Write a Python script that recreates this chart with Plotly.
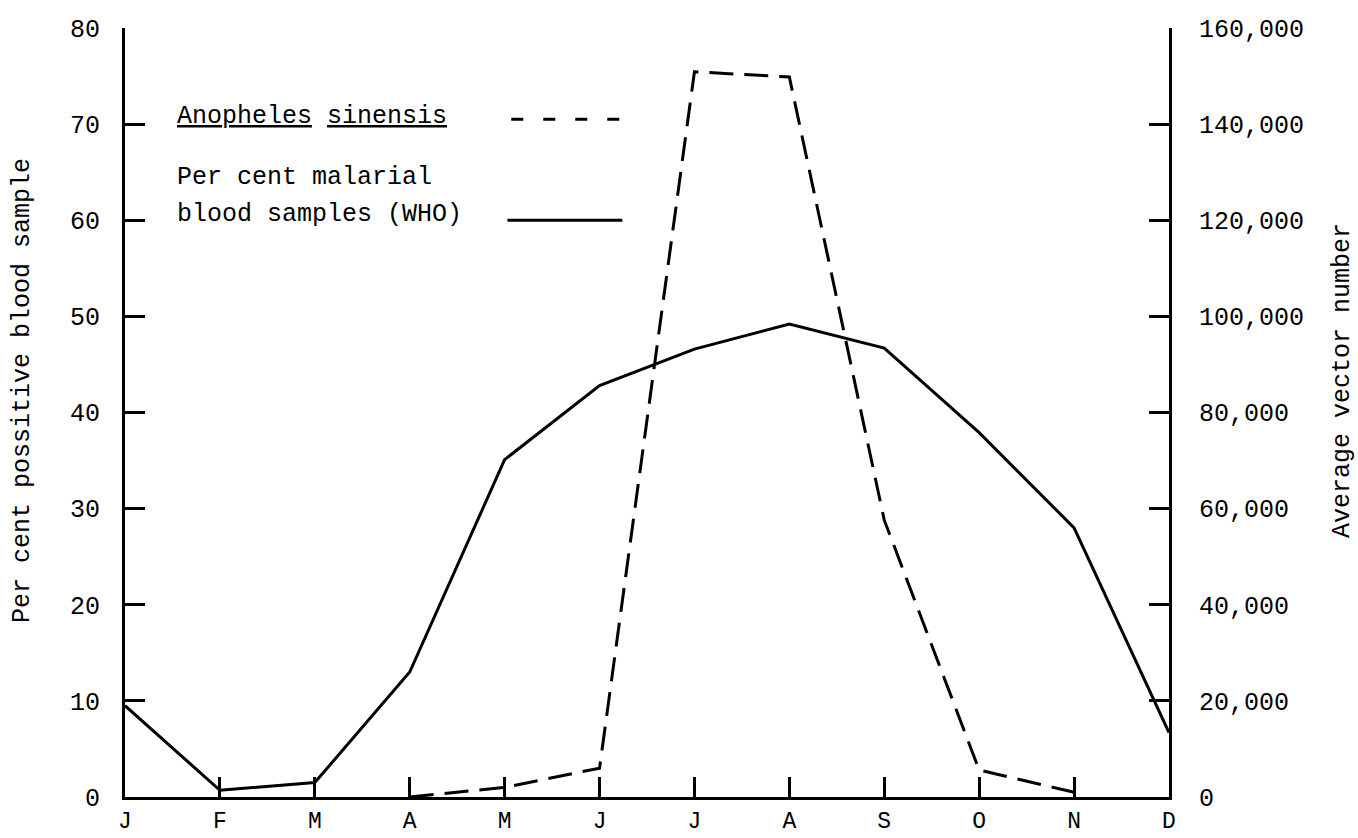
import plotly.graph_objects as go

months = ["J", "F", "M", "A", "M", "J", "J", "A", "S", "O", "N", "D"]
month_idx = list(range(12))

# Per cent malarial blood samples (WHO) - left axis
percent_positive = [9.5, 0.7, 1.5, 13.0, 35.1, 42.8, 46.6, 49.2, 46.7, 37.9, 28.0, 6.7]

# Anopheles sinensis average vector number - right axis (April..November)
vector_idx = [3, 4, 5, 6, 7, 8, 9, 10]
vector_number = [0, 2000, 6000, 150900, 149800, 57600, 5600, 1000]

left_ticks = [0, 10, 20, 30, 40, 50, 60, 70, 80]
right_ticks = [0, 20000, 40000, 60000, 80000, 100000, 120000, 140000, 160000]
right_ticktext = ["0", "20,000", "40,000", "60,000", "80,000", "100,000",
                  "120,000", "140,000", "160,000"]

FONT = "Liberation Mono"
FS = 25

fig = go.Figure()
fig.add_trace(go.Scatter(
    x=month_idx, y=percent_positive, mode="lines",
    line=dict(color="black", width=3), cliponaxis=False,
    name="Per cent malarial blood samples (WHO)", yaxis="y"))
fig.add_trace(go.Scatter(
    x=vector_idx, y=vector_number, mode="lines",
    line=dict(color="black", width=3, dash="24px,11px"), cliponaxis=False,
    name="Anopheles sinensis", yaxis="y2"))

axis_common = dict(showline=True, linecolor="black", linewidth=3,
                   ticks="inside", ticklen=20, tickwidth=3, tickcolor="black",
                   showgrid=False, zeroline=False, automargin=False)

fig.update_layout(
    width=1358, height=838,
    margin=dict(l=125, r=189, t=28, b=41),
    paper_bgcolor="white", plot_bgcolor="white",
    showlegend=False,
    xaxis=dict(range=[0, 11], tickvals=month_idx, ticktext=months,
               ticklabelstandoff=0,
               tickfont=dict(family=FONT, size=23, color="black"), **axis_common),
    yaxis=dict(range=[0, 80], tickvals=left_ticks,
               ticktext=[str(v) for v in left_ticks],
               ticklabelstandoff=17,
               tickfont=dict(family=FONT, size=FS, color="black"), **axis_common),
    yaxis2=dict(range=[0, 160000], tickvals=right_ticks, ticktext=right_ticktext,
                overlaying="y", side="right", anchor="x",
                ticklabelstandoff=22,
                tickfont=dict(family=FONT, size=FS, color="black"), **axis_common),
)

def ann(text, x, y, xanchor="left", yanchor="middle", xref="x", yref="y", angle=0):
    fig.add_annotation(text=text, x=x, y=y, xref=xref, yref=yref,
                       xanchor=xanchor, yanchor=yanchor, showarrow=False,
                       textangle=angle,
                       font=dict(family=FONT, size=FS, color="black"))

# Legend texts
ann("<u>Anopheles</u> <u>sinensis</u>", 0.53, 70.8)
ann("Per cent malarial", 0.53, 64.4)
ann("blood samples (WHO)", 0.53, 60.6)

# Legend line samples
fig.add_shape(type="line", xref="x", yref="y", x0=4.07, x1=5.21, y0=70.5, y1=70.5,
              line=dict(color="black", width=3, dash="12px,20px"))
fig.add_shape(type="line", xref="x", yref="y", x0=4.03, x1=5.24, y0=60.0, y1=60.0,
              line=dict(color="black", width=3))

# Axis titles
ann("Per cent possitive blood sample", -0.0977, 0.528, xanchor="center",
    xref="paper", yref="paper", angle=-90)
ann("Average vector number", 1.1667, 0.541, xanchor="center",
    xref="paper", yref="paper", angle=-90)

fig.write_html("out.html")
